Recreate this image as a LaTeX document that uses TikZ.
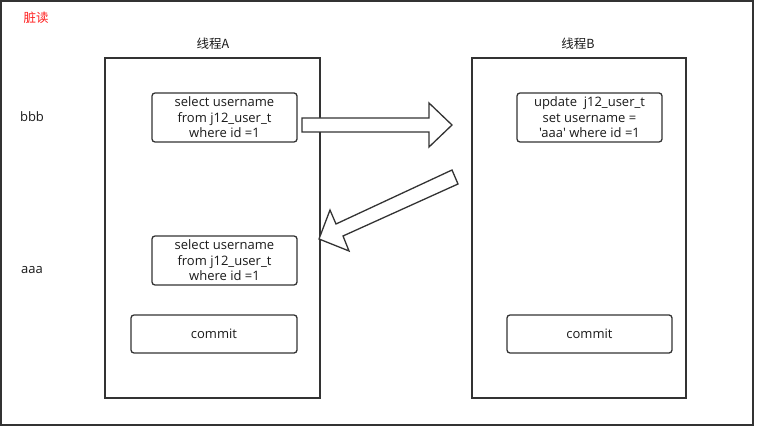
\documentclass[tikz,border=0pt]{standalone}
\usepackage{fontspec}
\setmainfont{Open Sans}[Ligatures=TeXOff]
\newfontfamily\cjk{Noto Sans CJK SC}
\definecolor{ln}{HTML}{333333}
\definecolor{tx}{HTML}{1A1A1A}
\definecolor{redt}{HTML}{FF2020}
\begin{document}
\begin{tikzpicture}[x=1pt,y=-1pt,
  frame/.style={draw=ln,line width=1.4pt},
  thread/.style={draw=ln,line width=1.4pt},
  stmt/.style={draw=ln,line width=1.3pt,rounded corners=3pt},
  txt/.style={font=\fontsize{13}{15.5}\selectfont,text=tx,align=center},
  cjkt/.style={font=\cjk\fontsize{12.5}{14}\selectfont,text=tx},
  blk/.style={draw=ln,line width=1.3pt,fill=white,line join=miter}]
\useasboundingbox (0,0) rectangle (759,427);
\fill[white] (0,0) rectangle (759,427);
\draw[frame] (1,1) rectangle (753,425);
\node[cjkt,text=redt] (title) at (36,18) {脏读};
\node[cjkt] (ta) at (213,44) {线程A};
\node[cjkt] (tb) at (578,44) {线程B};
\draw[thread] (105,58) rectangle (320,398);
\draw[thread] (472,58) rectangle (686,398);
\draw[stmt] (152,93) rectangle (297,142);
\node[txt] (a1) at (224.5,117.5) {select username\\from j12\_user\_t\\where id =1};
\draw[stmt] (152,236) rectangle (297,285);
\node[txt] (a2) at (224.5,260.5) {select username\\from j12\_user\_t\\where id =1};
\draw[stmt] (131,315) rectangle (297,353);
\node[txt] (ca) at (214,334) {commit};
\draw[stmt] (517,93) rectangle (662,142);
\node[txt] (b1) at (589.5,117.5) {update\ \ j12\_user\_t\\set username =\\'aaa' where id =1};
\draw[stmt] (507,315) rectangle (672,353);
\node[txt] (cb) at (589.5,334) {commit};
\node[txt] (bbb) at (32,117) {bbb};
\node[txt] (aaa) at (32,270) {aaa};
% block arrow right
\draw[blk] (302,118) -- (429,118) -- (429,103) -- (452,125) -- (429,147) -- (429,132) -- (302,132) -- cycle;
% block arrow diagonal
\draw[blk] (452,170) -- (458,184) -- (343,236) -- (349,251) -- (319,239) -- (330,210) -- (336,224) -- cycle;
\end{tikzpicture}
\end{document}
